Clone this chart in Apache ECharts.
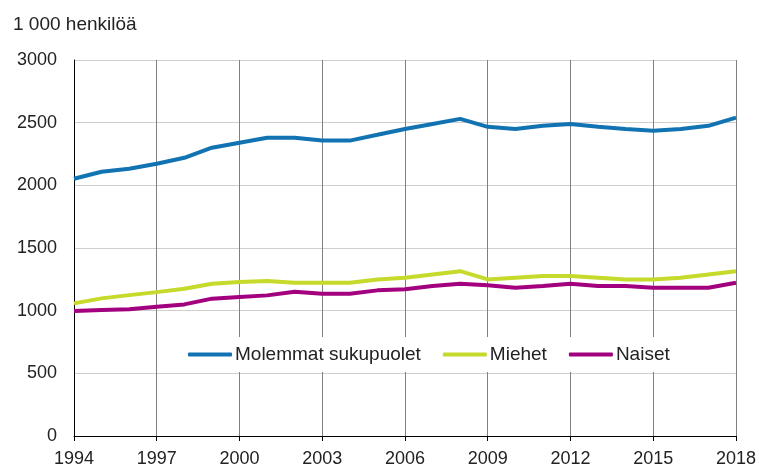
<!DOCTYPE html>
<html>
<head>
<meta charset="utf-8">
<script src="https://cdn.jsdelivr.net/npm/echarts@6/dist/echarts.min.js"></script>
<style>
  html, body { margin: 0; padding: 0; background: #fff; }
  #chart { width: 759px; height: 468px; }
</style>
</head>
<body>
<div id="chart"></div>
<script>
const years = ['1994','1995','1996','1997','1998','1999','2000','2001','2002','2003','2004','2005',
  '2006','2007','2008','2009','2010','2011','2012','2013','2014','2015','2016','2017','2018'];
const molemmat = [2053,2108,2133,2172,2220,2300,2340,2379,2380,2357,2357,2403,
  2450,2490,2530,2467,2450,2475,2490,2467,2450,2435,2450,2475,2540];
const miehet = [1058,1098,1124,1148,1175,1215,1228,1236,1222,1222,1222,1249,
  1263,1289,1315,1249,1263,1276,1276,1263,1249,1249,1263,1289,1315];
const naiset = [997,1005,1011,1032,1050,1096,1109,1122,1151,1135,1135,1162,
  1170,1196,1215,1202,1183,1196,1215,1196,1196,1183,1183,1183,1222];

const font = 'Liberation Sans, Arial, sans-serif';
const chart = echarts.init(document.getElementById('chart'));

function line(name, data, color) {
  return {
    name: name, type: 'line', data: data, showSymbol: false, symbol: 'none',
    lineStyle: { color: color, width: 4 }, itemStyle: { color: color }, z: 3
  };
}

chart.setOption({
  animation: false,
  textStyle: { fontFamily: font },
  title: {
    text: '1 000 henkilöä', left: 8, top: 10,
    textStyle: { fontSize: 19, fontWeight: 'normal', color: '#222', fontFamily: font }
  },
  legend: {
    left: 176, top: 337,
    backgroundColor: '#fff',
    padding: [8, 12],
    itemWidth: 44, itemHeight: 4, itemGap: 22,
    icon: 'roundRect',
    textStyle: { fontSize: 19, color: '#222', fontFamily: font, padding: [0, 0, 0, -2] },
    data: ['Molemmat sukupuolet', 'Miehet', 'Naiset']
  },
  grid: { left: 74, right: 23, top: 60, bottom: 31 },
  xAxis: {
    type: 'category', data: years, boundaryGap: false,
    axisLine: { lineStyle: { color: '#000', width: 1 } },
    axisTick: { interval: 2, length: 5, lineStyle: { color: '#000' } },
    axisLabel: { interval: 2, fontSize: 18, color: '#222', margin: 14, fontFamily: font },
    splitLine: { show: true, interval: 2, lineStyle: { color: '#808080', width: 1 } }
  },
  yAxis: {
    type: 'value', min: 0, max: 3000, interval: 500,
    axisLine: { show: true, lineStyle: { color: '#000', width: 1 } },
    axisTick: { show: false },
    axisLabel: { fontSize: 18, color: '#222', margin: 17, fontFamily: font, formatter: v => String(v) },
    splitLine: { lineStyle: { color: '#cfcfcf', width: 1 } }
  },
  series: [
    line('Molemmat sukupuolet', molemmat, '#1273b3'),
    line('Miehet', miehet, '#c5da2a'),
    line('Naiset', naiset, '#a2007e')
  ]
});
</script>
</body>
</html>
